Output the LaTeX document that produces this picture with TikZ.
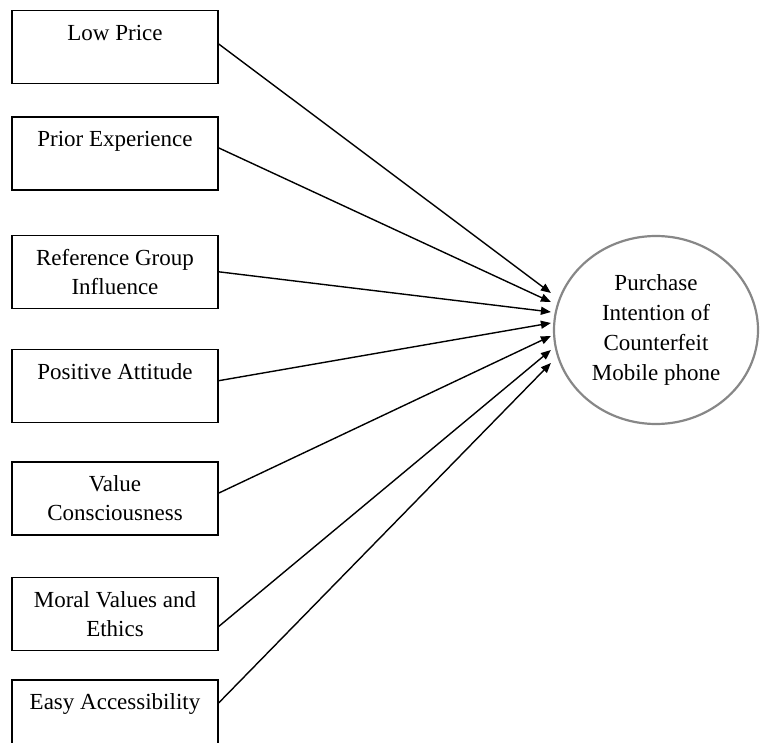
\documentclass[tikz,border=0pt]{standalone}
\usepackage{fontspec}
\setmainfont{Liberation Serif}
\usetikzlibrary{positioning, arrows.meta, calc, shapes.geometric}
\definecolor{AnilloGris}{RGB}{135,135,135}

\begin{document}
\begin{tikzpicture}[x=1pt, y=-1pt, font=\fontsize{23}{29}\selectfont, >={Triangle[length=10pt, width=8pt]},
  factor/.style={rectangle, draw=black, line width=1.4pt, minimum width=206pt, minimum height=73pt, inner sep=0pt, align=center},
  flecha/.style={->, line width=1.4pt}]
  \useasboundingbox (0,0) rectangle (761,743);
  \node[factor] (lp) at (115,47) {Low Price\\~};
  \node[factor, below=32pt of lp] (pe) {Prior Experience\\~};
  \node[factor, below=44pt of pe] (rg) {Reference Group\\Influence};
  \node[factor, below=40pt of rg] (pa) {Positive Attitude\\~};
  \node[factor, below=38pt of pa] (vc) {Value\\Consciousness};
  \node[factor, below=41pt of vc] (mv) {Moral Values and\\Ethics};
  \node[factor, below=28pt of mv] (ea) {Easy Accessibility\\~};
  \node[ellipse, draw=AnilloGris, line width=2.2pt, minimum width=204pt, minimum height=188pt, align=center, font=\fontsize{23}{30}\selectfont] (pi) at (656,330) {Purchase\\Intention of\\Counterfeit\\Mobile phone};
  \draw[flecha] ($(lp.east)+(0,-3)$) -- ($(pi.west)+(-2,-37)$);
  \draw[flecha] ($(pe.east)+(0,-5.5)$) -- ($(pi.west)+(-2,-28)$);
  \draw[flecha] ($(rg.east)+(0,0)$) -- ($(pi.west)+(-2,-18)$);
  \draw[flecha] ($(pa.east)+(0,-5.5)$) -- ($(pi.west)+(-2,-7)$);
  \draw[flecha] ($(vc.east)+(0,-5.5)$) -- ($(pi.west)+(-2,6)$);
  \draw[flecha] ($(mv.east)+(0,12.5)$) -- ($(pi.west)+(-2,20)$);
  \draw[flecha] ($(ea.east)+(0,-13.5)$) -- ($(pi.west)+(-2,33)$);
\end{tikzpicture}
\end{document}
